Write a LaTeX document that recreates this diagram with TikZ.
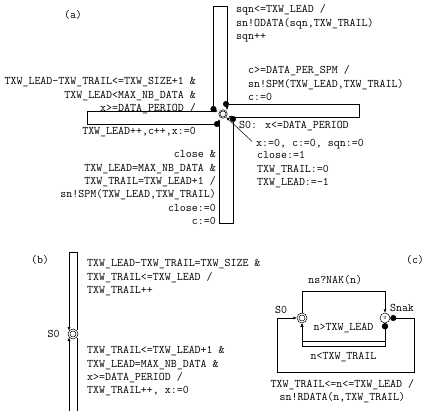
\documentclass[tikz,border=0pt]{standalone}
\usetikzlibrary{positioning, arrows.meta, calc}

\begin{document}
\begin{tikzpicture}[
        % One unit is one point, y runs downwards
        x=1pt, y=-1pt,
        % Define styles for the nodes
        lbl/.style={font=\fontsize{11.6}{13.3}\selectfont\ttfamily, inner sep=0pt, align=left},
        state/.style={circle, draw, line width=0.5pt, minimum size=10pt, inner sep=0pt,
            path picture={\draw[line width=0.5pt] (path picture bounding box.center) circle (3pt);}},
        ustate/.style={circle, draw, line width=0.5pt, minimum size=10pt, inner sep=0pt, font=\tiny\ttfamily},
        arrow/.style={-{Latex[length=3.5pt,width=3pt]}, line width=0.5pt},
        dot_arrow/.style={{Circle[length=6pt]}-{Latex[length=3.5pt,width=3pt]}, line width=0.5pt}
    ]
    \useasboundingbox (0,0) rectangle (425,411);

    % ---------------- (a) ----------------
    \node[lbl] (tag_a) at (73,15) {(a)};
    \node[state, minimum size=8.5pt] (sa) at (223,114) {};

    % four self loops in a pinwheel
    \draw[dot_arrow] ([shift={(-9.5,-2)}]sa.center) -- ++(0,-106) -- ++(13.5,0) -- ([shift={(4,-4)}]sa.center);
    \draw[dot_arrow] ([shift={(0,-10)}]sa.center) -- ++(136,0) -- ++(0,13) -- ([shift={(5,3)}]sa.center);
    \draw[dot_arrow] ([shift={(10,2)}]sa.center) -- ++(0,107) -- ++(-14,0) -- ([shift={(-4,5)}]sa.center);
    \draw[dot_arrow] ([shift={(-3,10)}]sa.center) -- ++(-133,0) -- ++(0,-13) -- ([shift={(-5,-3)}]sa.center);

    % loop labels
    \node[lbl, anchor=north west] (lbl_up) at (236,4.5) {sqn<=TXW\_LEAD /\\sn!ODATA(sqn,TXW\_TRAIL)\\sqn++};
    \node[lbl, anchor=north west] (lbl_right) at (248,65.5) {c>=DATA\_PER\_SPM /\\sn!SPM(TXW\_LEAD,TXW\_TRAIL)\\c:=0};
    \node[lbl, anchor=west] (inv_a) at (239,126) {S0: x<=DATA\_PERIOD};
    \node[lbl, anchor=north east, align=right] (lbl_left) at (196,77.5) {TXW\_LEAD-TXW\_TRAIL<=TXW\_SIZE+1 \&\\TXW\_LEAD<MAX\_NB\_DATA \&\\x>=DATA\_PERIOD /};
    \node[lbl, anchor=east] (upd_left) at (196,132) {TXW\_LEAD++,c++,x:=0};
    \node[lbl, anchor=north east, align=right] (lbl_down) at (216,150.5) {close \&\\TXW\_LEAD=MAX\_NB\_DATA \&\\TXW\_TRAIL=TXW\_LEAD+1 /\\sn!SPM(TXW\_LEAD,TXW\_TRAIL)\\close:=0\\c:=0};

    % initial transition
    \node[lbl, anchor=west] (init_a) at (256,144.5) {x:=0, c:=0, sqn:=0};
    \node[lbl, anchor=north west] (init_b) at (257,151.5) {close:=1\\TXW\_TRAIL:=0\\TXW\_LEAD:=-1};
    \draw[arrow] ([shift={(-4,2)}]init_a.north west) -- (sa.-45);

    % ---------------- (b) ----------------
    \node[lbl] (tag_b) at (40,260) {(b)};
    \node[state] (sb) at (73,334) {};
    \node[lbl, left=8pt of sb] (name_b) {S0};
    \draw[arrow] ([shift={(4,-4)}]sb.center) -- ++(0,-78) -- ++(-8,0) -- ([shift={(-4,-3.5)}]sb.center);
    \draw[arrow] ([shift={(4,4)}]sb.center) -- ++(0,90) -- ++(-8,0) -- ([shift={(-4,3.5)}]sb.center);
    \node[lbl, anchor=north west] (lbl_b_up) at (87,259.5) {TXW\_LEAD-TXW\_TRAIL=TXW\_SIZE \&\\TXW\_TRAIL<=TXW\_LEAD /\\TXW\_TRAIL++};
    \node[lbl, anchor=north west] (lbl_b_down) at (87,346.5) {TXW\_TRAIL<=TXW\_LEAD+1 \&\\TXW\_LEAD=MAX\_NB\_DATA \&\\x>=DATA\_PERIOD /\\TXW\_TRAIL++, x:=0};

    % ---------------- (c) ----------------
    \node[lbl] (tag_c) at (415,260) {(c)};
    \node[state] (s0c) at (302,318) {};
    \node[ustate] (snak) at (385,318) {U};
    \node[lbl] (name_c) at (281,310) {S0};
    \node[lbl] (name_snak) at (402,308) {Snak};

    \draw[arrow] (s0c.north) -- ++(0,-22) -| node[lbl, pos=0.2, above=6pt] {ns?NAK(n)} (snak.north);
    \draw[dot_arrow] (snak.south) -- ++(0,17.7) -| node[lbl, pos=0.25, above=8pt] {n>TXW\_LEAD} (s0c.south);
    \draw[dot_arrow] (snak.south) -- ++(0,22.7) -| node[lbl, pos=0.25, below=6pt] {n<TXW\_TRAIL} (s0c.south);
    \draw[dot_arrow] (snak.east) -- ++(23.7,0) -- ++(0,54.7) -| node[lbl, align=center, pos=0.262, below=6pt] {TXW\_TRAIL<=n<=TXW\_LEAD /\\sn!RDATA(n,TXW\_TRAIL)} ([xshift=-19.3pt]s0c.west) -- (s0c.west);

\end{tikzpicture}
\end{document}
